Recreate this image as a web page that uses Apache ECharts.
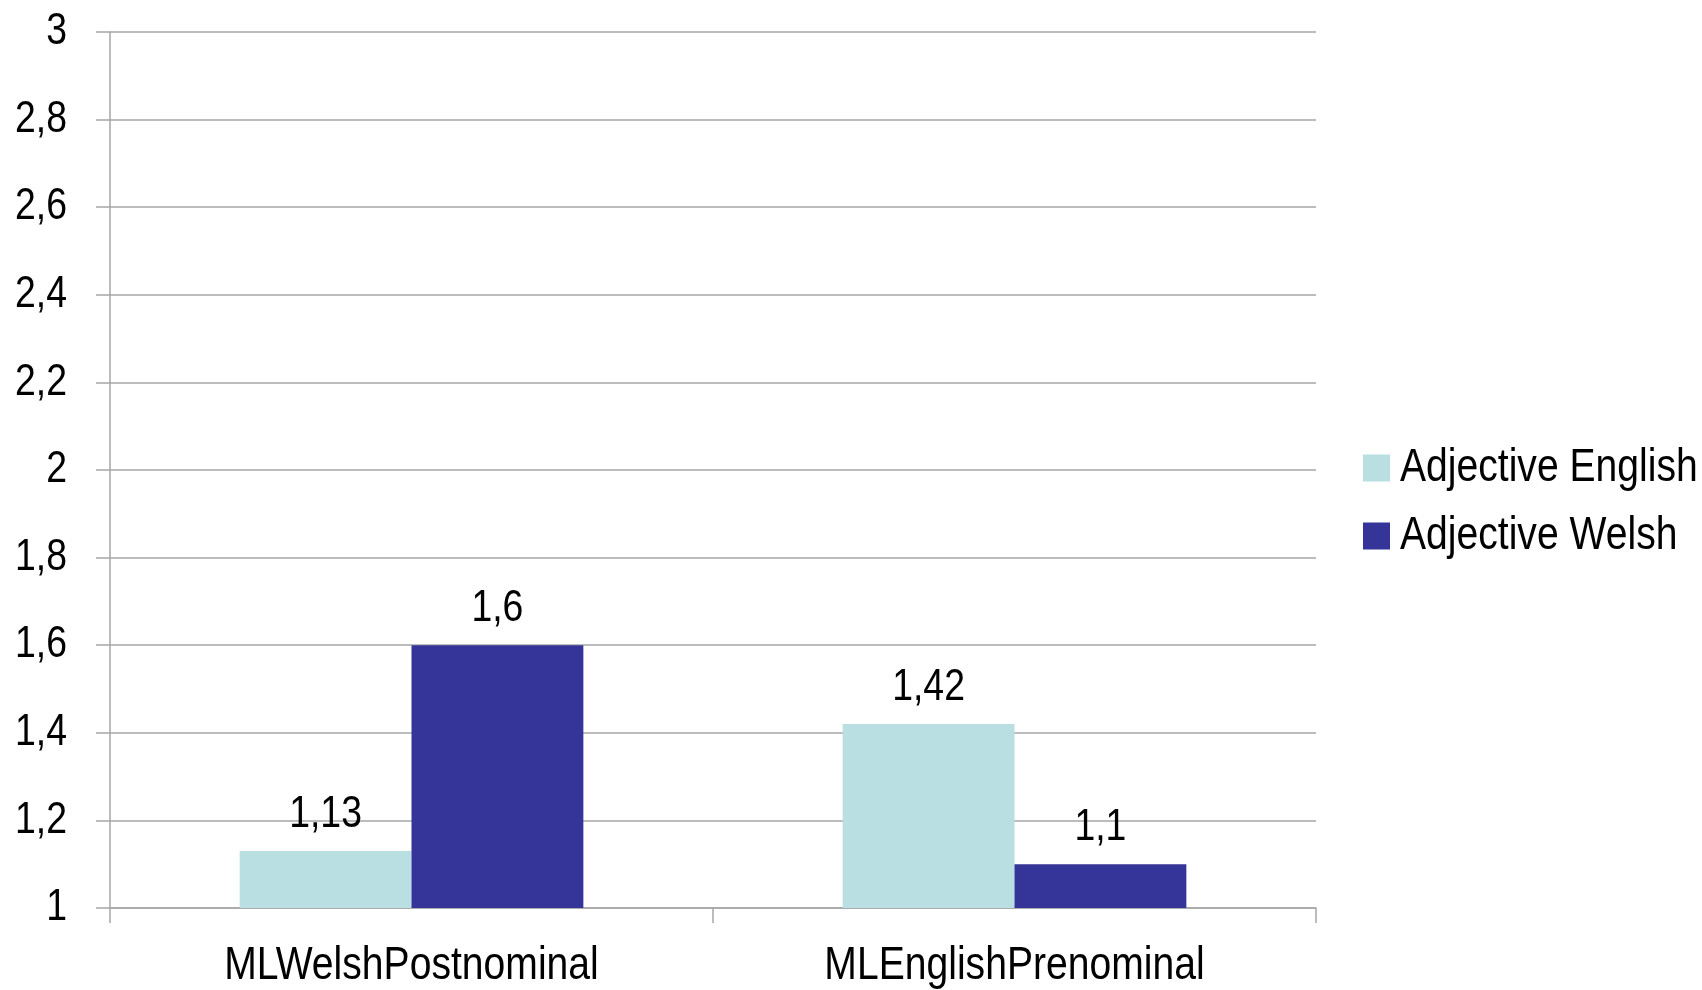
<!DOCTYPE html>
<html>
<head>
<meta charset="utf-8">
<script src="https://cdn.jsdelivr.net/npm/echarts@6/dist/echarts.min.js"></script>
<style>
  html, body { margin: 0; padding: 0; background: #fff; }
  #chart { width: 1702px; height: 990px; }
</style>
</head>
<body>
<div id="chart"></div>
<script>
// Mean ratings per main-language construction
const categories = ['MLWelshPostnominal', 'MLEnglishPrenominal'];
const adjectiveEnglish = [1.13, 1.42];
const adjectiveWelsh = [1.6, 1.1];
const seriesNames = ['Adjective English', 'Adjective Welsh'];

const FONT = '"Liberation Sans Narrow", "Arial Narrow", "Liberation Sans", Arial, sans-serif';
const GRID = '#a6a6a6';

// No narrow typeface is available, so canvas text is condensed horizontally
// around its anchor point to give a narrow look.
const CONDENSE = 0.85;
const baseFillText = CanvasRenderingContext2D.prototype.fillText;
CanvasRenderingContext2D.prototype.fillText = function (text, x, y, maxWidth) {
  this.save();
  this.translate(x, y);
  this.scale(CONDENSE, 1);
  if (maxWidth === undefined) baseFillText.call(this, text, 0, 0);
  else baseFillText.call(this, text, 0, 0, maxWidth / CONDENSE);
  this.restore();
};

const fmt = v => {
  const s = (Math.round(v * 100) / 100).toString();
  return s.replace('.', ',');
};

const chart = echarts.init(document.getElementById('chart'), null, { renderer: 'canvas' });
const labelCfg = {
  show: true,
  position: 'top',
  distance: 14,
  color: '#000',
  fontFamily: FONT,
  fontSize: 44,
  formatter: p => fmt(p.value)
};

chart.setOption({
  animation: false,
  backgroundColor: '#ffffff',
  grid: { left: 110, right: 386, top: 32, bottom: 82, containLabel: false },
  legend: {
    orient: 'vertical',
    left: 1358,
    top: 440,
    itemWidth: 27,
    itemHeight: 27,
    itemGap: 22,
    icon: 'rect',
    data: seriesNames,
    textStyle: { fontFamily: FONT, fontSize: 46, color: '#000', padding: [0, 0, 0, 5] }
  },
  xAxis: {
    type: 'category',
    data: categories,
    axisLine: { lineStyle: { color: GRID, width: 1.5 } },
    axisTick: { show: true, alignWithLabel: false, length: 15, lineStyle: { color: GRID, width: 1.5 } },
    axisLabel: { margin: 35, color: '#000', fontFamily: FONT, fontSize: 46 }
  },
  yAxis: {
    type: 'value',
    min: 1,
    max: 3,
    interval: 0.2,
    axisLine: { show: true, lineStyle: { color: GRID, width: 1.5 } },
    axisTick: { show: true, length: 14, lineStyle: { color: GRID, width: 1.5 } },
    splitLine: { show: true, lineStyle: { color: GRID, width: 1.5 } },
    axisLabel: { margin: 43, color: '#000', fontFamily: FONT, fontSize: 44, formatter: fmt }
  },
  series: [
    {
      name: seriesNames[0],
      type: 'bar',
      data: adjectiveEnglish,
      barGap: '0%',
      barCategoryGap: '43%',
      itemStyle: { color: '#b9dfe2' },
      label: labelCfg
    },
    {
      name: seriesNames[1],
      type: 'bar',
      data: adjectiveWelsh,
      itemStyle: { color: '#353599' },
      label: labelCfg
    }
  ]
});
</script>
</body>
</html>
